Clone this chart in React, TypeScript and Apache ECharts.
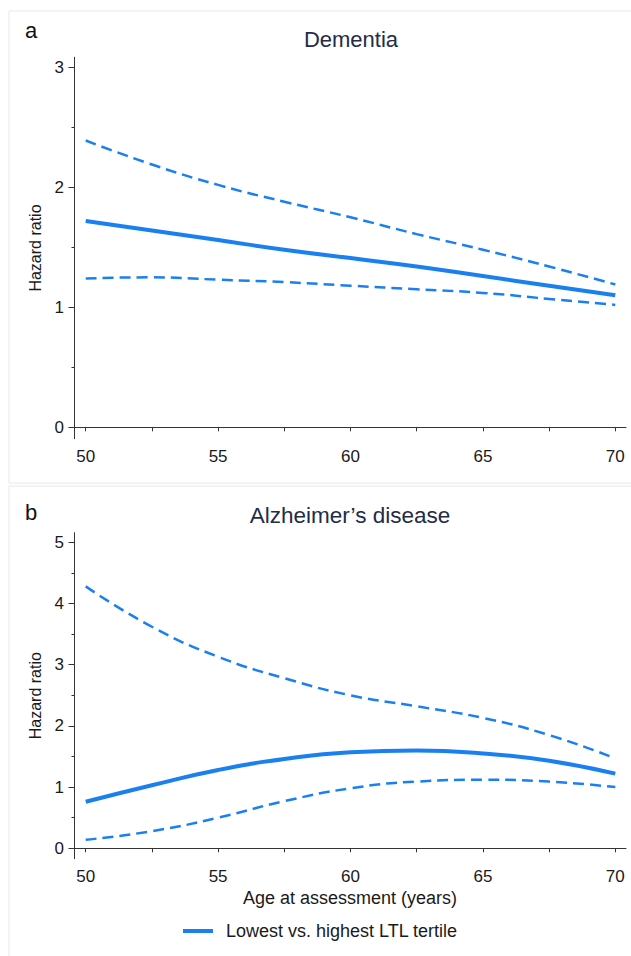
import React, { useEffect, useRef } from "react";
import * as echarts from "echarts";

const ages = [50, 52.5, 55, 57.5, 60, 62.5, 65, 67.5, 70];
const demEst = [1.72, 1.64, 1.56, 1.48, 1.41, 1.34, 1.26, 1.18, 1.1];
const demUpper = [2.39, 2.19, 2.02, 1.88, 1.75, 1.61, 1.48, 1.34, 1.19];
const demLower = [1.24, 1.25, 1.23, 1.21, 1.18, 1.15, 1.12, 1.07, 1.02];
const adEst = [0.76, 1.03, 1.28, 1.46, 1.57, 1.6, 1.55, 1.43, 1.22];
const adUpper = [4.28, 3.62, 3.13, 2.78, 2.5, 2.32, 2.13, 1.85, 1.47];
const adLower = [0.14, 0.28, 0.5, 0.77, 0.98, 1.09, 1.12, 1.09, 1.0];

const xTicks = [50, 52.5, 55, 57.5, 60, 62.5, 65, 67.5, 70];
const xLabels = [50, 55, 60, 65, 70];
const demYLabels = [0, 1, 2, 3];
const demYMinor = [0.5, 1.5, 2.5];
const adYLabels = [0, 1, 2, 3, 4, 5];
const adYMinor = [0.5, 1.5, 2.5, 3.5, 4.5];

const panelTitles = ["Dementia", "Alzheimer\u2019s disease"];
const panelLetters = ["a", "b"];
const legendName = "Lowest vs. highest LTL tertile";
const xName = "Age at assessment (years)";
const yName = "Hazard ratio";

const FONT = '"Liberation Sans", Arial, Helvetica, sans-serif';
const BLUE = "#1a80f0";
const AXIS = "#333333";

const pair = (ys: number[]) => ages.map((a, i) => [a, ys[i]]);

export default function App() {
  const ref = useRef<HTMLDivElement>(null);
  useEffect(() => {
    if (!ref.current) return;
    const chart = echarts.init(ref.current, null, { renderer: "svg" });

    const xAxisBase = (gridIndex: number, withName: boolean) => ({
      type: "value",
      gridIndex,
      min: 49.558,
      max: 70.404,
      position: "bottom",
      splitLine: { show: false },
      axisLine: { show: true, lineStyle: { color: AXIS, width: 1 } },
      axisTick: {
        show: true,
        length: 4,
        customValues: xTicks,
        lineStyle: { color: AXIS },
      },
      axisLabel: {
        customValues: xLabels,
        fontSize: 17,
        fontFamily: FONT,
        color: "#1a1a1a",
        margin: 9,
      },
      name: withName ? xName : "",
      nameLocation: "middle",
      nameGap: 30,
      nameTextStyle: { fontSize: 18, fontFamily: FONT, color: "#1a1a1a" },
    });

    const yMain = (gridIndex: number, min: number, max: number, labels: number[]) => ({
      type: "value",
      gridIndex,
      min,
      max,
      position: "left",
      splitLine: { show: false },
      axisLine: { show: true, lineStyle: { color: AXIS, width: 1 } },
      axisTick: {
        show: true,
        length: 5.5,
        customValues: labels,
        lineStyle: { color: AXIS },
      },
      axisLabel: {
        customValues: labels,
        fontSize: 17,
        fontFamily: FONT,
        color: "#1a1a1a",
        margin: 10,
      },
      name: yName,
      nameLocation: "middle",
      nameGap: 30,
      nameRotate: 90,
      nameTextStyle: { fontSize: 16, fontFamily: FONT, color: "#1a1a1a" },
    });

    const yMinor = (gridIndex: number, min: number, max: number, minors: number[]) => ({
      type: "value",
      gridIndex,
      min,
      max,
      position: "left",
      splitLine: { show: false },
      axisLine: { show: false },
      axisTick: {
        show: true,
        length: 2.5,
        customValues: minors,
        lineStyle: { color: AXIS },
      },
      axisLabel: { show: false },
    });

    const solid = (xi: number, yi: number, data: number[]) => ({
      type: "line",
      name: legendName,
      xAxisIndex: xi,
      yAxisIndex: yi,
      data: pair(data),
      smooth: true,
      showSymbol: false,
      symbol: "none",
      lineStyle: { color: BLUE, width: 4 },
      itemStyle: { color: BLUE },
      z: 3,
    });
    const dashed = (xi: number, yi: number, data: number[], nm: string) => ({
      type: "line",
      name: nm,
      xAxisIndex: xi,
      yAxisIndex: yi,
      data: pair(data),
      smooth: true,
      showSymbol: false,
      symbol: "none",
      lineStyle: { color: BLUE, width: 2.5, type: [11, 6] },
      itemStyle: { color: BLUE },
      z: 2,
    });

    chart.setOption({
      animation: false,
      backgroundColor: "#ffffff",
      textStyle: { fontFamily: FONT },
      graphic: [
        {
          type: "rect",
          shape: { x: 9, y: 11, width: 640, height: 472 },
          style: { fill: "none", stroke: "#e8e8e8", lineWidth: 1 },
          silent: true,
        },
        {
          type: "rect",
          shape: { x: 9, y: 486, width: 640, height: 480 },
          style: { fill: "none", stroke: "#e8e8e8", lineWidth: 1 },
          silent: true,
        },
      ],
      title: [
        {
          text: panelLetters[0],
          left: 25,
          top: 19,
          padding: 0,
          textStyle: { fontSize: 22, fontWeight: "normal", color: "#111", fontFamily: FONT },
        },
        {
          text: panelLetters[1],
          left: 25,
          top: 501,
          padding: 0,
          textStyle: { fontSize: 22, fontWeight: "normal", color: "#111", fontFamily: FONT },
        },
        {
          text: panelTitles[0],
          left: 351,
          top: 28,
          textAlign: "center",
          padding: 0,
          textStyle: { fontSize: 22, fontWeight: "normal", color: "#232c48", fontFamily: FONT },
        },
        {
          text: panelTitles[1],
          left: 350,
          top: 504,
          textAlign: "center",
          padding: 0,
          textStyle: { fontSize: 22.5, fontWeight: "normal", color: "#232c48", fontFamily: FONT },
        },
      ],
      legend: {
        data: [legendName],
        left: 178,
        top: 917,
        icon: "rect",
        itemWidth: 30,
        itemHeight: 4,
        textStyle: { fontSize: 18, fontFamily: FONT, color: "#1a1a1a", padding: [0, 0, 0, 8] },
        selectedMode: false,
      },
      grid: [
        { left: 74, top: 57.3, width: 552, height: 381.4 },
        { left: 74, top: 532.7, width: 552, height: 326 },
      ],
      xAxis: [xAxisBase(0, false), xAxisBase(1, true)],
      yAxis: [
        yMain(0, -0.095, 3.0833, demYLabels),
        yMinor(0, -0.095, 3.0833, demYMinor),
        yMain(1, -0.17, 5.157, adYLabels),
        yMinor(1, -0.17, 5.157, adYMinor),
      ],
      series: [
        dashed(0, 0, demUpper, "Upper 95% CI (dementia)"),
        dashed(0, 0, demLower, "Lower 95% CI (dementia)"),
        solid(0, 0, demEst),
        dashed(1, 2, adUpper, "Upper 95% CI (AD)"),
        dashed(1, 2, adLower, "Lower 95% CI (AD)"),
        solid(1, 2, adEst),
      ],
    });
    return () => chart.dispose();
  }, []);

  return (
    <div
      ref={ref}
      style={{ position: "absolute", left: 0, top: 0, width: 631, height: 956, background: "#fff" }}
    />
  );
}
